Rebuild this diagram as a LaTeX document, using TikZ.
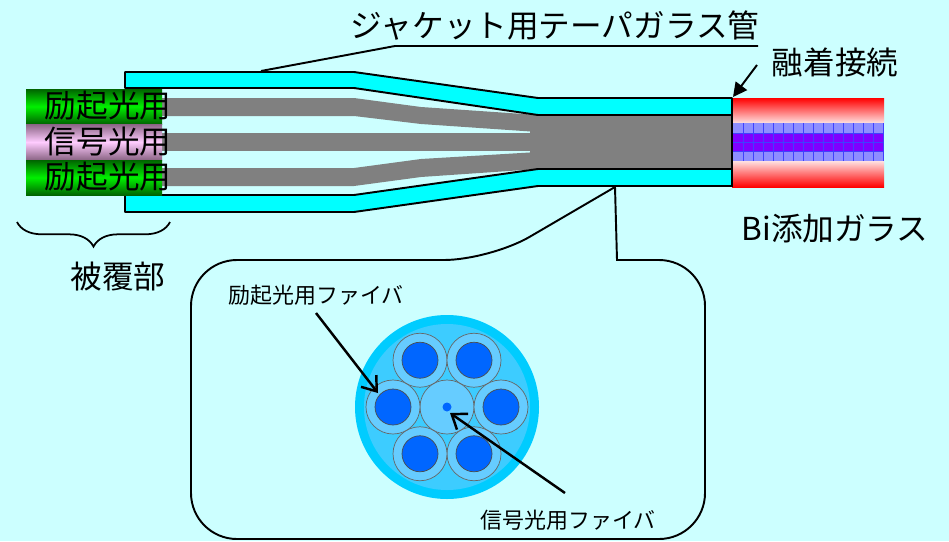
\documentclass[tikz,border=0pt]{standalone}
\usepackage{fontspec}
\setmainfont{Noto Sans CJK JP}
\usetikzlibrary{arrows.meta, decorations.pathreplacing}

\definecolor{bgcyan}{HTML}{CCFFFF}
\definecolor{jacket}{HTML}{00FFFF}
\definecolor{fibergray}{HTML}{808080}
\definecolor{pumpgreen}{HTML}{00F000}
\definecolor{darkgreen}{HTML}{006400}
\definecolor{sigpink}{HTML}{FFCCFF}
\definecolor{sigmauve}{HTML}{8A6484}
\definecolor{bandblue}{HTML}{8E8EFF}
\definecolor{bandviolet}{HTML}{8000FF}
\definecolor{gridblue}{HTML}{4040FF}
\definecolor{outersheath}{HTML}{00CCFF}
\definecolor{innersheath}{HTML}{3DCCFF}
\definecolor{clad}{HTML}{66CCFF}
\definecolor{core}{HTML}{0066FF}

\tikzset{
  wall/.style={draw=black, line width=1.1pt, fill=jacket, line join=round},
  bigtext/.style={font=\fontsize{18pt}{20pt}\selectfont, inner sep=0pt},
  smalltext/.style={font=\fontsize{12.5pt}{14pt}\selectfont, inner sep=0pt},
  leader/.style={line width=1.1pt},
  pointer/.style={-{Straight Barb[length=7.5pt, width=11pt]}, line width=1.4pt},
  fusearrow/.style={-{Triangle[length=8pt, width=8pt]}, line width=1.1pt},
}

\begin{document}
\begin{tikzpicture}[x=0.02cm, y=-0.02cm]
  % canvas
  \fill[bgcyan] (0,0) rectangle (949,541);
  \useasboundingbox (0,0) rectangle (949,541);

  % bare fibres inside the tube
  \fill[fibergray] (150,98) -- (354,98) -- (421,107) -- (538,115) -- (538,132) -- (421,124) -- (354,116) -- (150,116) -- cycle;
  \fill[fibergray] (150,133) rectangle (538,151);
  \fill[fibergray] (150,168) -- (354,168) -- (421,159) -- (538,152) -- (538,169) -- (421,177) -- (354,186) -- (150,186) -- cycle;
  % fused bundle
  \fill[fibergray] (530,114) rectangle (732,170);

  % taper tube walls
  \draw[wall] (125,72) -- (354,72) -- (538,98) -- (732,98) -- (732,115) -- (538,115) -- (354,88) -- (125,88) -- cycle;
  \draw[wall] (125,195) -- (354,195) -- (538,169) -- (732,169) -- (732,186) -- (538,186) -- (354,212) -- (125,212) -- cycle;

  % Bi doped fibre
  \shade[top color=red, bottom color=red!12] (732,98) rectangle (884,123);
  \shade[top color=red!12, bottom color=red] (732,161) rectangle (884,187);
  \fill[bandblue] (732,123) rectangle (884,161);
  \fill[bandviolet] (732,133) rectangle (884,151);
  \foreach \y in {133,142,151}
    \draw[gridblue, line width=0.4pt] (732,\y) -- (884,\y);
  \foreach \x in {743,753,...,883}
    \draw[gridblue, line width=0.4pt] (\x,123) -- (\x,161);
  \draw[line width=1.1pt] (732,98) -- (732,187);

  % coated fibres
  \shade[top color=darkgreen, bottom color=darkgreen, middle color=pumpgreen] (26,89) rectangle (162,124);
  \shade[top color=sigmauve, bottom color=sigmauve, middle color=sigpink] (26,124) rectangle (162,160);
  \shade[top color=darkgreen, bottom color=darkgreen, middle color=pumpgreen] (26,160) rectangle (162,195);
  \node[bigtext] (pumpa) at (108,106) {励起光用};
  \node[bigtext] (signal) at (108,142) {信号光用};
  \node[bigtext] (pumpb) at (108,177) {励起光用};

  % coating brace
  \draw[decorate, decoration={brace, mirror, amplitude=14pt}, line width=1pt] (17,222) -- (170,222);
  \node[bigtext] (coatlabel) at (118,277) {被覆部};

  % jacket label
  \node[bigtext] (jacketlabel) at (555,26) {ジャケット用テーパガラス管};
  \coordinate (jackettip) at (261,71);
  \coordinate (jacketbend) at (395,46);
  \coordinate (jacketend) at (758,46);
  \draw[leader] (jackettip) -- (jacketbend) -- (jacketend);

  % splice label
  \node[bigtext] (fuselabel) at (835,62) {融着接続};
  \coordinate (fusetail) at (757,65);
  \coordinate (fusept) at (733,97);
  \draw[fusearrow] (fusetail) -- (fusept);

  \node[bigtext] (bilabel) at (835,229) {Bi添加ガラス};

  % callout with cross section
  \draw[line width=1.1pt] (615,187) -- (617,260) -- (660,260)
    [rounded corners=0.92cm] -- (705,260) -- (705,539) -- (191,539) -- (191,260) -- (490,260)
    [sharp corners] -- (615,187);

  \coordinate (xs) at (447,407);
  \fill[outersheath] (xs) circle[radius=92];
  \fill[innersheath] (xs) circle[radius=83];
  \begin{scope}[shift={(xs)}]
    \draw[black!60, line width=0.4pt, fill=clad] (0,0) circle[radius=27];
    \foreach \a in {0,60,...,300} {
      \draw[black!60, line width=0.4pt, fill=clad] (\a:54) circle[radius=27];
      \draw[black!70, line width=0.4pt, fill=core] (\a:54) circle[radius=18];
    }
    \fill[core] (0,0) circle[radius=4.5];
  \end{scope}

  \node[smalltext] (pumpfiber) at (316,295) {励起光用ファイバ};
  \coordinate (pumptail) at (316,313);
  \coordinate (pumptip) at (378,393);
  \draw[pointer] (pumptail) -- (pumptip);

  \node[smalltext] (sigfiber) at (568,520) {信号光用ファイバ};
  \coordinate (sigtail) at (565,493);
  \coordinate (sigtip) at (450,413);
  \draw[pointer] (sigtail) -- (sigtip);
\end{tikzpicture}
\end{document}
